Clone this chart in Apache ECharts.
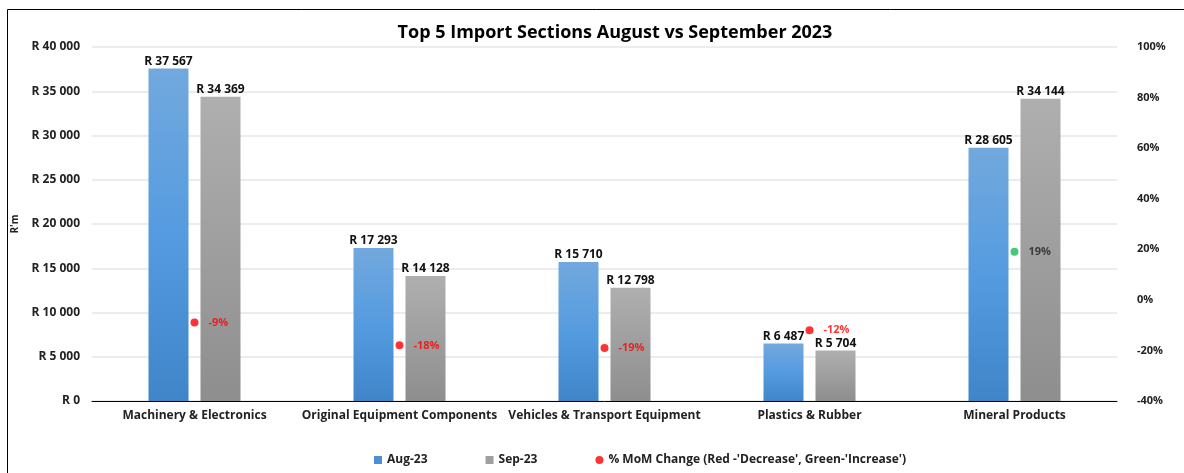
<!DOCTYPE html>
<html>
<head>
<meta charset="utf-8">
<script src="https://cdn.jsdelivr.net/npm/echarts@6/dist/echarts.min.js"></script>
<style>
  html, body { margin: 0; padding: 0; background: #fff; }
  #chart { width: 1184px; height: 473px; }
</style>
</head>
<body>
<div id="chart"></div>
<script>
// data
var categories = ['Machinery & Electronics', 'Original Equipment Components', 'Vehicles & Transport Equipment', 'Plastics & Rubber', 'Mineral Products'];
var aug23 = [37567, 17293, 15710, 6487, 28605];
var sep23 = [34369, 14128, 12798, 5704, 34144];
var momChange = [-9, -18, -19, -12, 19];

var font = '"Open Sans", sans-serif';

function rand(v) {
  return 'R ' + String(v).replace(/\B(?=(\d{3})+(?!\d))/g, ' ');
}

var momData = [];
for (var i = 0; i < momChange.length; i++) {
  var up = momChange[i] > 0;
  momData.push({
    value: momChange[i],
    itemStyle: { color: up ? '#1db954' : '#ff0000' },
    label: { color: up ? '#222' : '#ff0000' }
  });
}

var chart = echarts.init(document.getElementById('chart'));
var option = {
  animation: false,
  textStyle: { fontFamily: font },
  title: {
    text: 'Top 5 Import Sections August vs September 2023',
    left: 610, top: 19, textAlign: 'center',
    textStyle: { fontSize: 18, fontWeight: 'bold', color: '#000', fontFamily: font }
  },
  graphic: [{
    type: 'rect', shape: { x: 7.5, y: 9.5, width: 1250, height: 520 },
    style: { fill: null, stroke: '#000', lineWidth: 1 }, silent: true
  }],
  legend: {
    left: 369, top: 449, itemGap: 58, itemWidth: 8, itemHeight: 8,
    textStyle: { fontSize: 12, fontWeight: 'bold', color: '#222', fontFamily: font },
    data: [
      { name: 'Aug-23', icon: 'rect', itemStyle: { color: '#4a90d6' } },
      { name: 'Sep-23', icon: 'rect', itemStyle: { color: '#a0a0a0' } },
      { name: "% MoM Change (Red -'Decrease', Green-'Increase')", icon: 'circle', itemStyle: { color: '#ff0000' } }
    ]
  },
  grid: { left: 92, right: 67, top: 47, bottom: 72 },
  xAxis: {
    type: 'category', data: categories,
    axisLine: { lineStyle: { color: '#000', width: 1 } },
    axisTick: { show: false },
    axisLabel: { fontSize: 12, fontWeight: 'bold', color: '#222', margin: 9, interval: 0, fontFamily: font }
  },
  yAxis: [{
    type: 'value', min: 0, max: 40000, interval: 5000,
    name: "R'm", nameLocation: 'middle', nameGap: 72, nameRotate: 90,
    nameTextStyle: { fontSize: 10, fontWeight: 'bold', color: '#222', fontFamily: font },
    axisLabel: { fontSize: 12, fontWeight: 'bold', color: '#222', margin: 12, formatter: rand, fontFamily: font },
    splitLine: { lineStyle: { color: '#e3e6ea', width: 1.5 } }
  }, {
    type: 'value', min: -40, max: 100, interval: 20,
    axisLabel: { fontSize: 11, fontWeight: 'bold', color: '#222', margin: 20, formatter: '{value}%', fontFamily: font },
    splitLine: { show: false }
  }],
  series: [{
    name: 'Aug-23', type: 'bar', data: aug23, barWidth: 40, barGap: '30%',
    itemStyle: {
      color: { type: 'linear', x: 0, y: 0, x2: 0, y2: 1,
        colorStops: [{ offset: 0, color: '#72a9dd' }, { offset: 0.5, color: '#559be0' }, { offset: 1, color: '#3f85c8' }] }
    },
    label: { show: true, position: 'top', distance: 1, fontSize: 12, fontWeight: 'bold', color: '#111', formatter: function (p) { return rand(p.value); }, fontFamily: font }
  }, {
    name: 'Sep-23', type: 'bar', data: sep23, barWidth: 40,
    itemStyle: {
      color: { type: 'linear', x: 0, y: 0, x2: 0, y2: 1,
        colorStops: [{ offset: 0, color: '#afafaf' }, { offset: 1, color: '#8e8e8e' }] }
    },
    label: { show: true, position: 'top', distance: 1, fontSize: 12, fontWeight: 'bold', color: '#111', formatter: function (p) { return rand(p.value); }, fontFamily: font }
  }, {
    name: "% MoM Change (Red -'Decrease', Green-'Increase')", type: 'scatter', yAxisIndex: 1,
    data: momData, symbol: 'circle', symbolSize: 8,
    itemStyle: { color: '#ff0000' },
    label: { show: true, position: 'right', distance: 10, fontSize: 11, fontWeight: 'bold', formatter: '{c}%', fontFamily: font }
  }]
};
chart.setOption(option);
</script>
</body>
</html>
